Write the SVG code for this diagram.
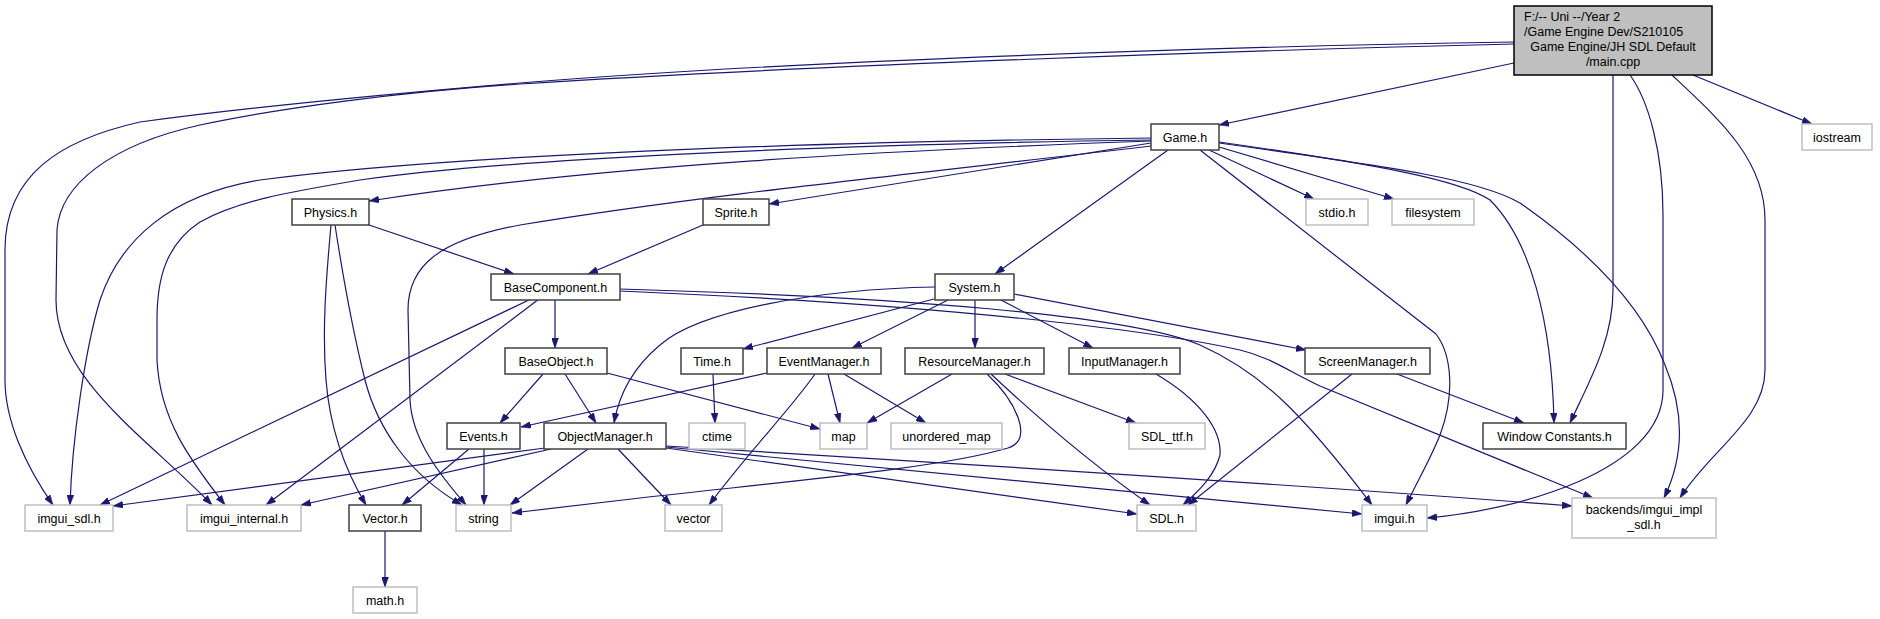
<svg xmlns="http://www.w3.org/2000/svg" width="1880" height="619" viewBox="0 0 1880 619">
<defs>
<style>
.n rect{fill:#fff;stroke:#404040;stroke-width:1.5}
.s rect{fill:#fff;stroke:#bfbfbf;stroke-width:1.5}
.m rect{fill:#bfbfbf;stroke:#000;stroke-width:1.5}
text{font-family:"Liberation Sans",Arial,sans-serif;font-size:12.5px;fill:#000;text-anchor:middle}
.l{text-anchor:start}
#edges path{fill:none;stroke:#191970;stroke-width:1.2;marker-end:url(#a)}
</style>
<marker id="a" viewBox="0 0 10 7" markerWidth="10" markerHeight="7" refX="10" refY="3.5" markerUnits="userSpaceOnUse" orient="auto">
<path d="M0,0 L10,3.5 L0,7 z" fill="#191970" stroke="#191970" stroke-width="0.5"/>
</marker>
</defs>
<rect width="1880" height="619" fill="#fff"/>
<g id="edges">
<path d="M1514,63 L1219,125"/>
<path d="M1514,42 C1250,46 800,60 520,83 C400,93 250,107 140,122 C60,140 5,175 5,250 L5,380 C5,420 25,465 53,505"/>
<path d="M1514,44 C1250,50 800,66 520,84 C400,92 280,108 200,125 C110,145 60,185 57,230 L56,300 C56,380 150,440 212,505"/>
<path d="M1613,75 L1613,290 C1613,340 1590,380 1570,423"/>
<path d="M1630,75 C1648,100 1663,150 1663,215 L1663,390 C1663,470 1520,510 1427,518"/>
<path d="M1672,75 C1720,120 1765,160 1765,220 L1765,370 C1765,420 1710,450 1680,498"/>
<path d="M1693,75 L1812,124"/>
<path d="M1151,138 C800,142 450,155 260,180 C170,195 120,240 100,300 C85,350 72,440 70,505"/>
<path d="M1151,140 C800,145 500,160 360,180 C290,192 240,200 200,222 C165,245 157,280 157,320 L157,360 C160,420 190,460 225,505"/>
<path d="M1151,141 C900,150 600,165 369,201"/>
<path d="M1151,146 C950,170 700,195 520,225 C440,240 408,265 408,310 L410,400 C412,440 440,475 466,505"/>
<path d="M1151,143 L769,204"/>
<path d="M1168,150 L995,274"/>
<path d="M1209,150 L1314,199"/>
<path d="M1219,147 L1394,199"/>
<path d="M1200,150 L1436,334 C1452,355 1455,395 1440,435 C1430,460 1418,480 1406,505"/>
<path d="M1219,142 C1380,165 1460,180 1490,200 C1530,240 1552,320 1554,423"/>
<path d="M1219,143 C1400,168 1480,180 1520,203 C1580,245 1640,300 1665,365 C1688,420 1680,465 1664,498"/>
<path d="M935,287 C820,289 700,310 660,345 C630,370 618,400 614,423"/>
<path d="M934,299 L743,349"/>
<path d="M950,299 L852,348"/>
<path d="M975,299 L975,348"/>
<path d="M999,299 L1093,348"/>
<path d="M1014,294 L1306,350"/>
<path d="M369,225 L514,274"/>
<path d="M331,225 C326,280 322,330 326,380 C330,430 345,470 366,505"/>
<path d="M335,225 C345,290 355,340 365,380 C378,430 410,475 462,505"/>
<path d="M703,225 L588,274"/>
<path d="M555,299 L555,348"/>
<path d="M531,299 L100,505"/>
<path d="M539,299 L266,505"/>
<path d="M620,289 C900,297 1130,315 1200,345 C1260,372 1300,410 1372,505"/>
<path d="M620,291 C950,305 1150,330 1240,350 C1270,357 1290,372 1320,386 L1593,498"/>
<path d="M543,374 L500,423"/>
<path d="M565,374 L596,423"/>
<path d="M607,373 L820,429"/>
<path d="M767,373 L521,427"/>
<path d="M828,374 L840,423"/>
<path d="M844,374 L926,423"/>
<path d="M815,374 C790,410 750,450 709,505"/>
<path d="M713,374 L715,423"/>
<path d="M952,374 L867,423"/>
<path d="M1005,374 L1136,423"/>
<path d="M991,374 C1040,420 1100,470 1150,505"/>
<path d="M987,374 C1015,400 1035,440 1008,448 C940,468 800,480 640,498 L512,513"/>
<path d="M1156,374 C1200,400 1222,430 1220,455 C1215,475 1200,490 1183,505"/>
<path d="M1352,374 L1188,505"/>
<path d="M1397,374 L1524,423"/>
<path d="M484,449 L484,505"/>
<path d="M469,449 L402,505"/>
<path d="M545,448 L113,506"/>
<path d="M551,449 L301,505"/>
<path d="M588,449 L510,505"/>
<path d="M618,449 L671,505"/>
<path d="M666,448 L1137,514"/>
<path d="M666,447 L1362,514"/>
<path d="M666,446 C900,460 1300,485 1572,506"/>
<path d="M385,531 L385,587"/>
</g>
<g id="main" class="m"><rect x="1514" y="6" width="198" height="69"/>
<text class="l" x="1524" y="21">F:/-- Uni --/Year 2</text>
<text class="l" x="1524" y="36">/Game Engine Dev/S210105</text>
<text x="1613" y="51"> Game Engine/JH SDL Default</text>
<text x="1613" y="66">/main.cpp</text></g>
<g id="game" class="n"><rect x="1151" y="124" width="68" height="26"/><text x="1185" y="141.5">Game.h</text></g>
<g id="iostream" class="s"><rect x="1802" y="124" width="70" height="26"/><text x="1837" y="141.5">iostream</text></g>
<g id="physics" class="n"><rect x="292" y="199" width="77" height="26"/><text x="330.5" y="216.5">Physics.h</text></g>
<g id="sprite" class="n"><rect x="703" y="199" width="66" height="26"/><text x="736" y="216.5">Sprite.h</text></g>
<g id="stdio" class="s"><rect x="1306" y="199" width="62" height="26"/><text x="1337" y="216.5">stdio.h</text></g>
<g id="filesystem" class="s"><rect x="1392" y="199" width="82" height="26"/><text x="1433" y="216.5">filesystem</text></g>
<g id="basecomponent" class="n"><rect x="491" y="274" width="129" height="26"/><text x="555.5" y="291.5">BaseComponent.h</text></g>
<g id="system" class="n"><rect x="935" y="274" width="79" height="26"/><text x="974.5" y="291.5">System.h</text></g>
<g id="baseobject" class="n"><rect x="505" y="348" width="102" height="26"/><text x="556" y="365.5">BaseObject.h</text></g>
<g id="time" class="n"><rect x="681" y="348" width="62" height="26"/><text x="712" y="365.5">Time.h</text></g>
<g id="eventmanager" class="n"><rect x="767" y="348" width="114" height="26"/><text x="824" y="365.5">EventManager.h</text></g>
<g id="resourcemanager" class="n"><rect x="905" y="348" width="139" height="26"/><text x="974.5" y="365.5">ResourceManager.h</text></g>
<g id="inputmanager" class="n"><rect x="1069" y="348" width="111" height="26"/><text x="1124.5" y="365.5">InputManager.h</text></g>
<g id="screenmanager" class="n"><rect x="1305" y="348" width="125" height="26"/><text x="1367.5" y="365.5">ScreenManager.h</text></g>
<g id="events" class="n"><rect x="447" y="423" width="73" height="26"/><text x="483.5" y="440.5">Events.h</text></g>
<g id="objectmanager" class="n"><rect x="544" y="423" width="122" height="26"/><text x="605" y="440.5">ObjectManager.h</text></g>
<g id="ctime" class="s"><rect x="689" y="423" width="56" height="26"/><text x="717" y="440.5">ctime</text></g>
<g id="map" class="s"><rect x="820" y="423" width="47" height="26"/><text x="843.5" y="440.5">map</text></g>
<g id="unordered_map" class="s"><rect x="891" y="423" width="111" height="26"/><text x="946.5" y="440.5">unordered_map</text></g>
<g id="sdl_ttf" class="s"><rect x="1129" y="423" width="76" height="26"/><text x="1167" y="440.5">SDL_ttf.h</text></g>
<g id="windowconstants" class="n"><rect x="1483" y="423" width="143" height="26"/><text x="1554.5" y="440.5">Window Constants.h</text></g>
<g id="imgui_sdl" class="s"><rect x="25" y="505" width="88" height="26"/><text x="69" y="522.5">imgui_sdl.h</text></g>
<g id="imgui_internal" class="s"><rect x="187" y="505" width="114" height="26"/><text x="244" y="522.5">imgui_internal.h</text></g>
<g id="vectorh" class="n"><rect x="349" y="505" width="72" height="26"/><text x="385" y="522.5">Vector.h</text></g>
<g id="string" class="s"><rect x="456" y="505" width="55" height="26"/><text x="483.5" y="522.5">string</text></g>
<g id="vector" class="s"><rect x="665" y="505" width="57" height="26"/><text x="693.5" y="522.5">vector</text></g>
<g id="sdl" class="s"><rect x="1137" y="505" width="59" height="26"/><text x="1166.5" y="522.5">SDL.h</text></g>
<g id="imgui" class="s"><rect x="1362" y="505" width="65" height="26"/><text x="1394.5" y="522.5">imgui.h</text></g>
<g id="backends" class="s"><rect x="1572" y="498" width="144" height="40"/><text x="1644" y="514">backends/imgui_impl</text><text x="1644" y="529">_sdl.h</text></g>
<g id="math" class="s"><rect x="353" y="587" width="64" height="26"/><text x="385" y="604.5">math.h</text></g>
</svg>
